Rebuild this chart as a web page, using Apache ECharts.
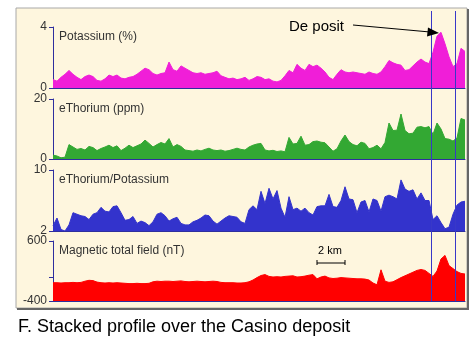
<!DOCTYPE html>
<html>
<head>
<meta charset="utf-8">
<script src="https://cdn.jsdelivr.net/npm/echarts@6/dist/echarts.min.js"></script>
<style>
  html, body { margin: 0; padding: 0; background: #fff; }
  #chart { width: 475px; height: 351px; }
</style>
</head>
<body>
<div id="chart"></div>
<script>
// samples along the profile line (index = sample number, equal spacing)
const potassium = [
  0.55, 0.45, 0.7, 0.9, 1.15, 0.9, 0.7, 0.55, 0.75, 0.85,
  0.75, 0.5, 0.45, 0.6, 0.85, 0.75, 0.85, 0.65, 0.6, 0.7,
  0.75, 0.9, 1.1, 1.3, 1.2, 0.95, 0.85, 0.95, 1.0, 1.7,
  1.2, 1.1, 1.45, 1.3, 1.15, 1.0, 0.95, 1.0, 0.9, 0.95,
  1.0, 1.1, 0.8, 0.7, 0.6, 0.65, 0.55, 0.6, 0.7, 0.5,
  0.6, 0.75, 0.7, 0.55, 0.6, 0.45, 0.4, 0.5, 0.8, 1.15,
  1.0, 1.55, 1.3, 1.15, 1.55, 1.4, 1.5, 1.3, 1.05, 0.7,
  0.55, 0.9, 1.2, 1.05, 1.0, 1.05, 1.0, 0.95, 0.9, 1.05,
  0.95, 0.9, 1.05, 1.4, 1.8, 1.65, 1.55, 1.5, 1.15, 1.2,
  1.45, 1.7, 1.9, 1.7, 1.6, 2.35, 3.4, 3.65, 2.9, 2.05,
  1.4, 1.6, 2.6, 2.4
];
const thorium = [
  1.3, 1.0, 0.4, 0.6, 4.8, 4.0, 3.2, 3.5, 3.0, 4.2,
  3.8, 2.8, 3.5, 4.0, 4.6, 3.8, 4.4, 2.8, 3.6, 4.6,
  3.8, 4.4, 5.0, 6.3, 5.2, 4.0, 4.8, 5.5, 5.0, 6.8,
  4.0, 4.8, 4.2, 3.0, 2.8, 2.6, 3.0, 2.7, 3.2, 3.6,
  3.0, 2.8, 3.0, 2.6, 2.8, 3.2, 3.6, 3.2, 3.0, 4.0,
  4.6, 5.0, 5.2, 3.0, 2.7, 2.9, 2.5, 2.7, 2.4, 7.2,
  5.0, 5.2, 7.6, 4.6, 4.8, 5.8, 6.0, 5.6, 5.4, 4.0,
  2.6, 3.4, 6.0, 8.0, 5.8, 4.8, 4.4, 5.6, 5.2, 3.4,
  3.8, 4.6, 3.4, 5.5, 12.0, 9.5, 9.6, 15.0, 9.5, 8.4,
  8.6, 10.6, 10.8, 10.4, 10.8, 8.2, 12.0, 10.0, 6.8, 6.6,
  6.0, 7.0, 13.5, 13.0
];
const thKRatio = [
  2.7, 3.7, 2.2, 2.0, 2.8, 4.4, 4.2, 4.0, 3.9, 3.5,
  4.2, 4.4, 5.1, 4.6, 4.5, 5.2, 5.3, 4.4, 3.4, 3.5,
  3.9, 3.0, 3.3, 3.1, 2.7, 3.2, 4.2, 4.4, 4.0, 3.3,
  3.6, 3.8, 3.0, 2.8, 2.8, 3.2, 3.4, 3.7, 4.1, 4.0,
  3.3, 2.9, 3.3, 3.7, 4.0, 3.9, 3.8, 3.2, 3.0, 4.8,
  5.3, 4.8, 7.2, 5.6, 7.6, 6.2, 7.3, 5.0, 3.8, 6.5,
  4.8, 5.0, 4.6, 5.0, 4.4, 4.1, 5.2, 5.3, 5.3, 6.8,
  5.2, 5.1, 6.0, 7.8, 6.2, 6.1, 4.4, 5.8, 6.0, 4.5,
  6.2, 6.0, 4.6, 6.5, 6.7, 6.5, 6.2, 8.7, 7.5, 7.2,
  7.4, 6.2, 7.0, 6.0, 6.0, 3.5, 4.0, 3.1, 2.3, 2.5,
  4.2, 5.4, 5.8, 5.9
];
const magnetic = [
  -95, -95, -100, -95, -95, -90, -95, -90, -70, -55,
  -60, -85, -95, -100, -95, -100, -95, -100, -105, -110,
  -110, -105, -110, -110, -105, -80, -70, -75, -70, -70,
  -75, -70, -65, -75, -80, -75, -70, -75, -80, -75,
  -70, -75, -90, -95, -95, -95, -100, -100, -95, -80,
  -50, -10, 25, 40, 10, 0, 5, 0, 10, 15,
  20, 0, 5, 15, 30, 40, -30, 0, 15, -15,
  -25, -20, -10, -15, -20, -25, -30, -30, -35, -50,
  -100, -130, 120, -70, -90, -80, -45, -10, 20, 50,
  80, 110, 125, 110, 60, 10, 100, 300, 360, 190,
  140, 90, 60, 50
];
// deposit limits, in sample units
const depositEdges = [94.5, 100.5];

const labels = ['Potassium (%)', 'eThorium (ppm)', 'eThorium/Potassium', 'Magnetic total field (nT)'];
const colors = ['#F01ED8', '#33A833', '#3333CC', '#FF0000'];
const series4 = [potassium, thorium, thKRatio, magnetic];
const yRanges = [[0, 4], [0, 20], [2, 10], [-400, 600]];
const yTicks = [[0, 4], [0, 20], [2, 10], [-400, 0, 600]];
const yTickLabels = [[0, 4], [0, 20], [2, 10], [-400, 600]];

const nPts = potassium.length;
const axisBlue = '#2E2E9E';
const font = 'Arial, "Liberation Sans", sans-serif';

const gridTops = [27, 99, 170, 241];
const gridHeights = [61, 60, 61, 60];

const grids = [];
const xAxes = [];
const yAxes = [];
const series = [];
const titles = [];

for (let k = 0; k < 4; k++) {
  grids.push({ left: 53, right: 10, top: gridTops[k], height: gridHeights[k] });
  xAxes.push({
    gridIndex: k, type: 'value', min: 0, max: nPts - 1,
    axisLine: { show: true, onZero: false, lineStyle: { color: axisBlue, width: 1 } },
    axisTick: { show: false }, axisLabel: { show: false }, splitLine: { show: false }
  });
  yAxes.push({
    gridIndex: k, type: 'value', min: yRanges[k][0], max: yRanges[k][1],
    axisLine: { show: true, onZero: false, lineStyle: { color: axisBlue, width: 1 } },
    axisTick: { show: true, length: 4, customValues: yTicks[k], lineStyle: { color: axisBlue } },
    axisLabel: { customValues: yTickLabels[k], color: '#333', fontSize: 12, fontFamily: font, margin: 6 },
    splitLine: { show: false }
  });
  series.push({
    type: 'line', xAxisIndex: k, yAxisIndex: k,
    data: series4[k].map((v, i) => [i, v]),
    showSymbol: false, silent: true,
    lineStyle: { color: colors[k], width: 1 },
    areaStyle: { color: colors[k], opacity: 1, origin: 'start' }
  });
  titles.push({
    text: labels[k], left: 59, top: gridTops[k] + 4, padding: 0,
    textStyle: { fontSize: 12, fontWeight: 'normal', color: '#333', fontFamily: font }
  });
}

// overlay grid for the deposit limits, running through all panels
grids.push({ left: 53, right: 10, top: 11, height: 290 });
xAxes.push({ gridIndex: 4, type: 'value', min: 0, max: nPts - 1, show: false });
yAxes.push({ gridIndex: 4, type: 'value', min: 0, max: 1, show: false });
series.push({
  type: 'line', xAxisIndex: 4, yAxisIndex: 4, data: [], silent: true, z: 5,
  markLine: {
    symbol: 'none', silent: true, animation: false,
    label: { show: false },
    emphasis: { disabled: true },
    lineStyle: { color: '#3838C8', width: 1, type: 'solid', opacity: 1 },
    data: depositEdges.map(v => ({ xAxis: v }))
  }
});

titles.push({
  text: 'F. Stacked profile over the Casino deposit', left: 18, top: 318, padding: 0,
  textStyle: { fontSize: 18, fontWeight: 'normal', color: '#000', fontFamily: font }
});

const chart = echarts.init(document.getElementById('chart'));
chart.setOption({
  backgroundColor: '#fff',
  animation: false,
  title: titles,
  grid: grids,
  xAxis: xAxes,
  yAxis: yAxes,
  series: series,
  graphic: [
    { type: 'rect', z: -10, silent: true, shape: { x: 16, y: 8, width: 451, height: 300 },
      style: { fill: '#FEF6DE', stroke: '#A8A8A8', lineWidth: 1 } },
    { type: 'polyline', z: -9, silent: true, shape: { points: [[468, 9], [468, 309], [17, 309]] },
      style: { stroke: '#666', lineWidth: 2, fill: null } },
    { type: 'text', z: 10, left: 289, top: 19,
      style: { text: 'De posit', fontSize: 15, fontFamily: font, fill: '#000' } },
    { type: 'line', z: 10, shape: { x1: 353, y1: 25, x2: 430, y2: 32 },
      style: { stroke: '#000', lineWidth: 1 } },
    { type: 'polygon', z: 10, shape: { points: [[439, 33], [428, 27.5], [427, 36.5]] },
      style: { fill: '#000' } },
    { type: 'text', z: 10, left: 318, top: 245,
      style: { text: '2 km', fontSize: 11, fontFamily: font, fill: '#000' } },
    { type: 'polyline', z: 10, shape: { points: [[317, 260], [317, 265]] }, style: { stroke: '#000', lineWidth: 1 } },
    { type: 'polyline', z: 10, shape: { points: [[317, 263], [345, 263]] }, style: { stroke: '#000', lineWidth: 1 } },
    { type: 'polyline', z: 10, shape: { points: [[345, 260], [345, 265]] }, style: { stroke: '#000', lineWidth: 1 } }
  ]
});
</script>
</body>
</html>
